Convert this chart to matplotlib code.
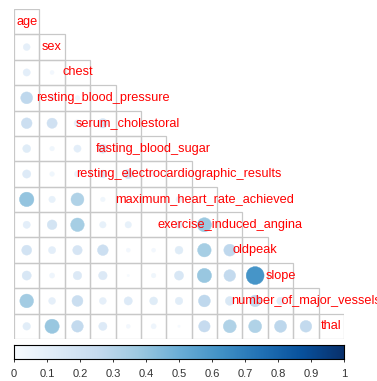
import numpy as np
import matplotlib
matplotlib.use("Agg")
from matplotlib import pyplot as plt
from matplotlib.patches import Circle, Rectangle

labels = ["age", "sex", "chest", "resting_blood_pressure", "serum_cholestoral",
          "fasting_blood_sugar", "resting_electrocardiographic_results",
          "maximum_heart_rate_achieved", "exercise_induced_angina", "oldpeak",
          "slope", "number_of_major_vessels", "thal"]

# absolute correlations, lower triangle, row by row
r_sex = [0.09]
r_chest = [0.10, 0.03]
r_rbp = [0.27, 0.06, 0.04]
r_chol = [0.22, 0.20, 0.09, 0.17]
r_fbs = [0.12, 0.04, 0.10, 0.16, 0.03]
r_restecg = [0.13, 0.04, 0.07, 0.12, 0.17, 0.05]
r_thalach = [0.40, 0.08, 0.32, 0.04, 0.02, 0.02, 0.07]
r_exang = [0.10, 0.18, 0.35, 0.08, 0.08, 0.00, 0.10, 0.38]
r_oldpeak = [0.19, 0.10, 0.17, 0.22, 0.03, 0.03, 0.12, 0.35, 0.27]
r_slope = [0.16, 0.05, 0.14, 0.14, 0.01, 0.04, 0.16, 0.39, 0.26, 0.61]
r_ca = [0.36, 0.09, 0.23, 0.09, 0.13, 0.12, 0.11, 0.27, 0.15, 0.26, 0.11]
r_thal = [0.11, 0.39, 0.26, 0.13, 0.03, 0.05, 0.01, 0.25, 0.32, 0.32, 0.28, 0.26]

lower = [[], r_sex, r_chest, r_rbp, r_chol, r_fbs, r_restecg, r_thalach,
         r_exang, r_oldpeak, r_slope, r_ca, r_thal]

cb_ticks = [0, 0.1, 0.2, 0.3, 0.4, 0.5, 0.6, 0.7, 0.8, 0.9, 1]

plt.rcParams['font.family'] = ['Liberation Sans', 'DejaVu Sans']

W, H = 377, 381
fig = plt.figure(figsize=(W / 100, H / 100), dpi=100)
n = len(labels)
ax = fig.add_axes([14 / W, (H - 339) / H, 330 / W, 330 / H])
ax.set_xlim(0, n)
ax.set_ylim(n, 0)
ax.axis("off")

cmap = plt.get_cmap("Blues")
grid_col = "#c8c8c8"

for i in range(n):
    for j in range(i + 1):
        ax.add_patch(Rectangle((j, i), 1, 1, fill=False, edgecolor=grid_col,
                               lw=0.9, zorder=1))
    for j, v in enumerate(lower[i]):
        c = cmap(v)
        ax.add_patch(Circle((j + 0.5, i + 0.5), 0.45 * np.sqrt(v), facecolor=c,
                            edgecolor=c, lw=0.3, zorder=2))
    ax.text(i + 0.5, i + 0.5, labels[i], color="red", fontsize=9.2,
            ha="center", va="center", zorder=3, clip_on=False)

cax = fig.add_axes([14 / W, (H - 359) / H, 330 / W, 14 / H])
grad = np.linspace(0, 1, 256).reshape(1, -1)
cax.imshow(grad, aspect="auto", cmap=cmap, extent=[0, 1, 0, 1])
cax.set_yticks([])
cax.set_xticks(cb_ticks, [f"{t:g}" for t in cb_ticks])
cax.tick_params(axis="x", length=2.5, width=0.7, labelsize=8, pad=5,
                colors="#333333")
for s in cax.spines.values():
    s.set_linewidth(0.8)
    s.set_color("black")

plt.savefig("out.png", dpi=100)
